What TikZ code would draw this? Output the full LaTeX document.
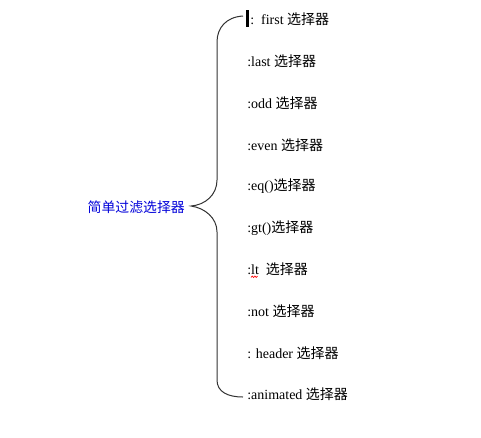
\documentclass[tikz,border=0pt]{standalone}
\usepackage{fontspec}
\setmainfont{Liberation Serif}
\newfontfamily\cjk{Noto Sans CJK SC}
\begin{document}
\begin{tikzpicture}[x=0.75pt,y=-0.75pt,
  item/.style={anchor=west,inner sep=0pt,font=\fontsize{10.5pt}{12pt}\selectfont},
  rootlbl/.style={anchor=east,inner sep=0pt,text=blue!85!black,font=\fontsize{10.4pt}{12pt}\selectfont\cjk},
  brace/.style={draw=black!80,line width=0.75pt}]
\useasboundingbox (0,0) rectangle (481,437);
\node[rootlbl] (root) at (185,207) {简单过滤选择器};
\node[item] (i1) at (250,19) {:\ \ first {\cjk 选择器}};
\node[item] (i2) at (247,61) {:last {\cjk 选择器}};
\node[item] (i3) at (247,103) {:odd {\cjk 选择器}};
\node[item] (i4) at (247,145) {:even {\cjk 选择器}};
\node[item] (i5) at (247,186) {:eq(){\cjk 选择器}};
\node[item] (i6) at (247,228) {:gt(){\cjk 选择器}};
\node[item] (i7) at (247,269) {:lt\ \ {\cjk 选择器}};
\node[item] (i8) at (247,311) {:not {\cjk 选择器}};
\node[item] (i9) at (247,353) {: header {\cjk 选择器}};
\node[item] (i10) at (247,394) {:animated {\cjk 选择器}};
\coordinate (top) at (243,16);
\coordinate (tip) at (191,206);
\coordinate (bot) at (243,397);
\draw[brace] (top) .. controls (226,17) and (217,28) .. (217,42) -- (217,180)
  .. controls (217,195) and (205,205) .. (tip)
  .. controls (205,208) and (217,218) .. (217,232) -- (217,380)
  .. controls (217,392) and (228,397) .. (bot);
\coordinate (c1) at (247.5,10);
\coordinate (c2) at (247.5,27);
\draw[line width=1.6pt] (c1) -- (c2);
\coordinate (w1) at (251,277.5);
\draw[red,line width=0.5pt] (w1) -- ++(1.3,-1.5) -- ++(1.3,1.5) -- ++(1.3,-1.5) -- ++(1.3,1.5) -- ++(1.3,-1.5);
\end{tikzpicture}
\end{document}
